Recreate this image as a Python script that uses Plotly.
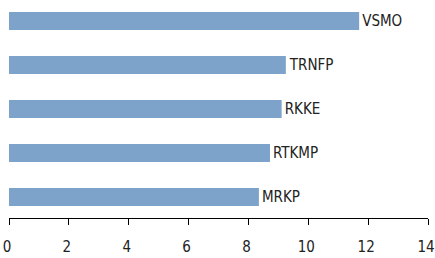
import plotly.graph_objects as go

categories = ["MRKP", "RTKMP", "RKKE", "TRNFP", "VSMO"]
values = [8.35, 8.72, 9.11, 9.25, 11.7]
x_ticks = [0, 2, 4, 6, 8, 10, 12, 14]

FONT = "DejaVu Sans Condensed, Liberation Sans, Arial"

fig = go.Figure(go.Bar(
    x=values, y=categories, orientation="h",
    marker=dict(color="#7DA3CB", line=dict(width=0)),
    width=0.41,
    text=categories, textposition="outside",
    textfont=dict(family=FONT, size=15, color="#222222"),
    cliponaxis=False,
))
fig.update_layout(
    width=445, height=258,
    margin=dict(l=9, r=17, t=0, b=40),
    paper_bgcolor="white", plot_bgcolor="white",
    showlegend=False,
    font=dict(family=FONT, size=15, color="#222222"),
    xaxis=dict(range=[0, 14], tickvals=x_ticks, showgrid=False, zeroline=False,
               showline=True, linecolor="#000000", linewidth=1,
               ticks="outside", ticklen=6, tickcolor="#000000",
               automargin=False, ticklabelstandoff=9, ticklabelshift=-2,
               tickfont=dict(family=FONT, size=15, color="#222222")),
    yaxis=dict(showticklabels=False, showgrid=False, zeroline=False,
               showline=False, range=[-0.48, 4.48], automargin=False),
)
fig.write_html(
    "out.html",
    config={"displayModeBar": False},
    post_script="document.body.style.margin='0';document.body.style.overflow='hidden';",
)
